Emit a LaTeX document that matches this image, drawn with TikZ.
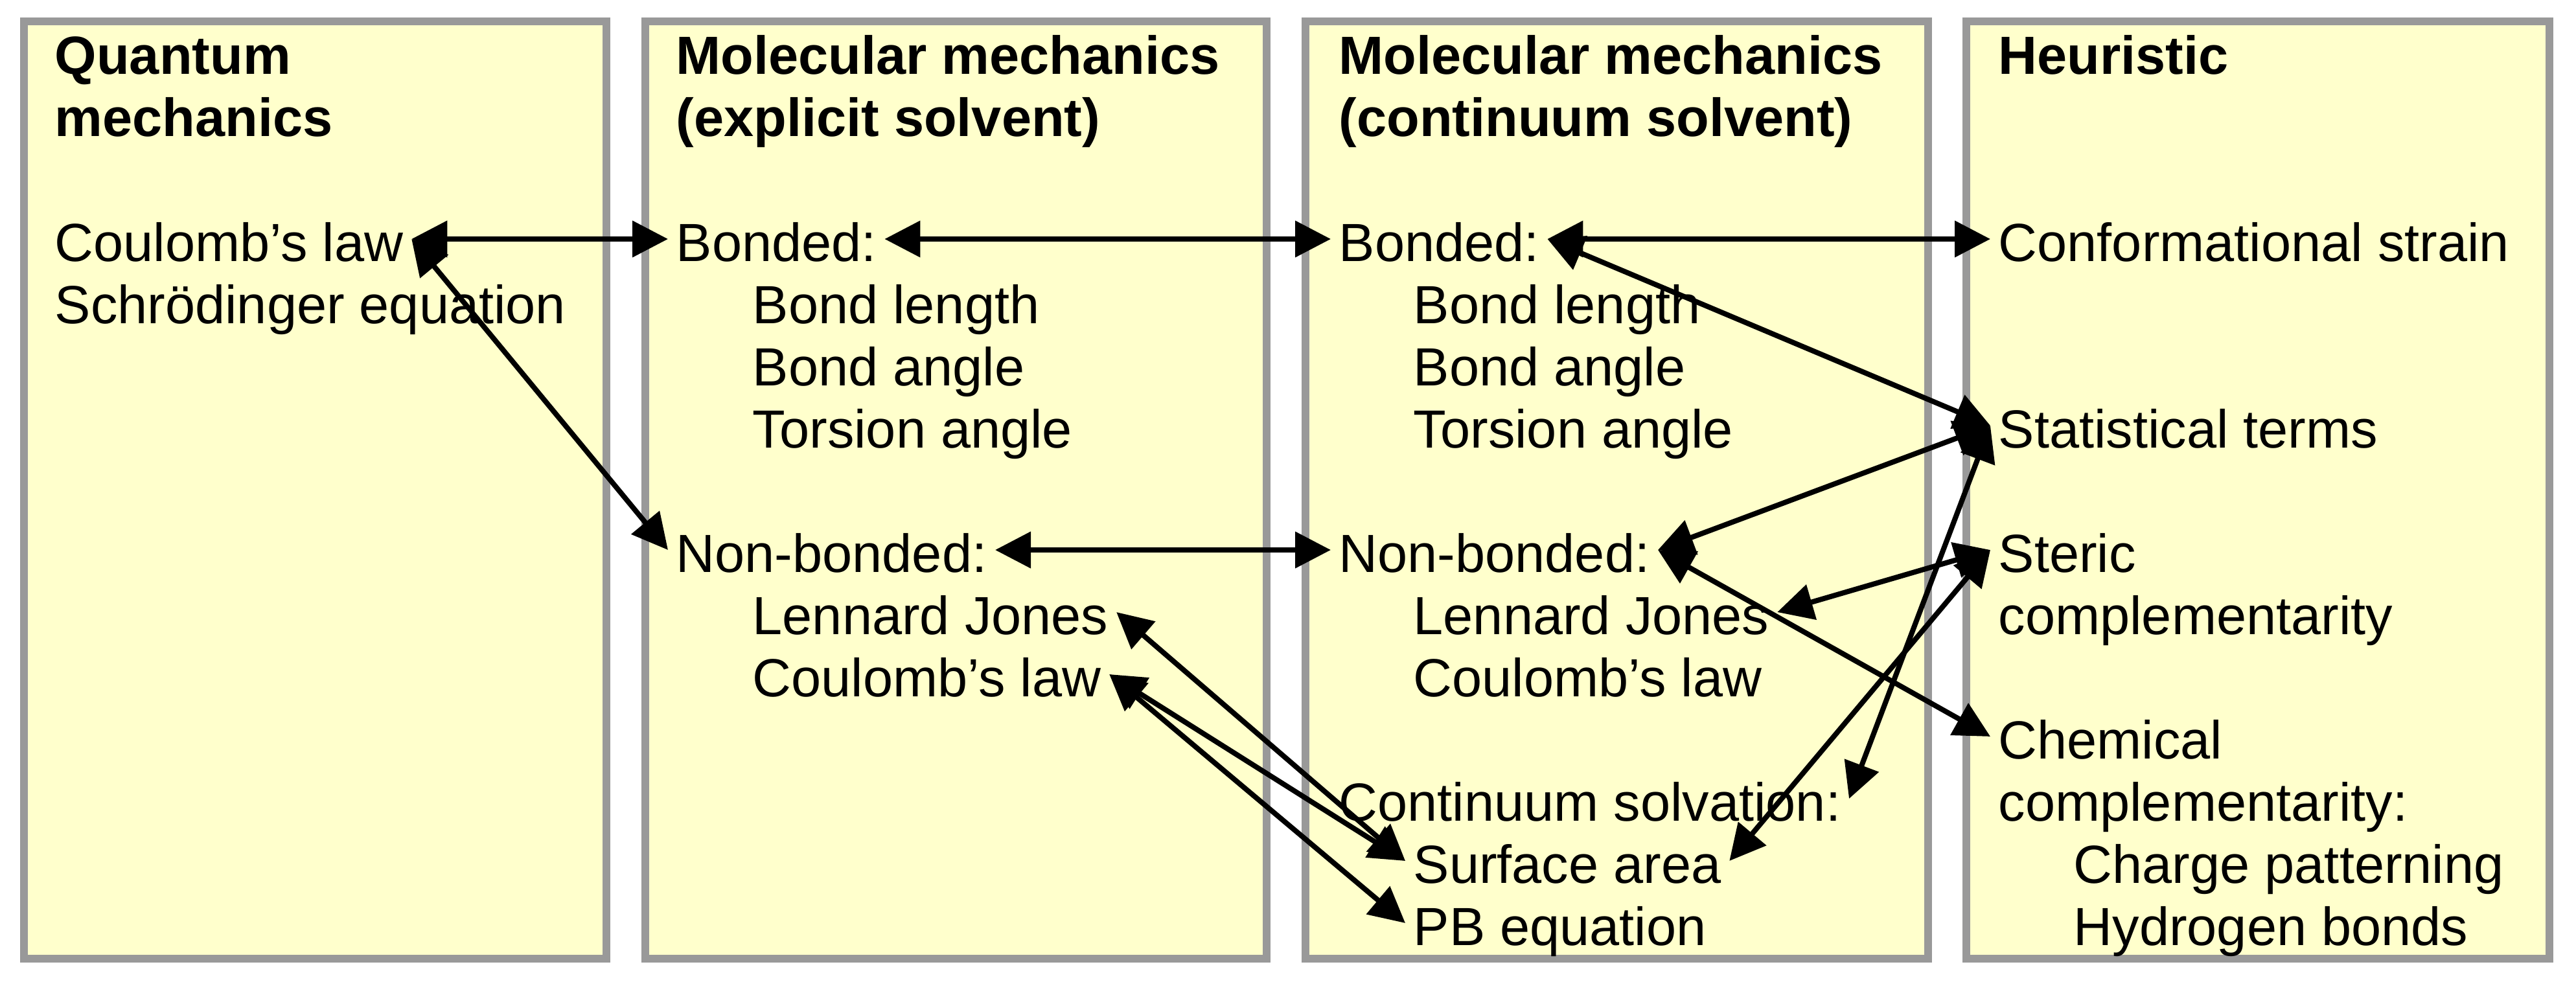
\documentclass[tikz,border=0pt]{standalone}
\usepackage{fontspec}
\setmainfont{Liberation Sans}
\usetikzlibrary{arrows.meta}
\definecolor{panelfill}{RGB}{255,255,204}
\definecolor{panelline}{RGB}{153,153,153}
\tikzset{
  panel/.style={draw=panelline,fill=panelfill,line width=0.12cm},
  item/.style={anchor=base west,inner xsep=0.12cm,inner ysep=0pt,text height=0.68cm,text depth=0pt,
    font=\fontsize{23.6}{27}\selectfont},
  head/.style={item,font=\fontsize{23.6}{27}\selectfont\bfseries},
  link/.style={line width=0.08cm,{Triangle[length=0.55cm,width=0.55cm]}-{Triangle[length=0.55cm,width=0.55cm]}}
}
\begin{document}
\begin{tikzpicture}[x=1cm,y=-1cm]
		\useasboundingbox (0,0) rectangle (39.76,15.16);
		% panels
		\draw[panel] (0.37,0.33) rectangle (9.36,14.80);
		\draw[panel] (9.96,0.33) rectangle (19.55,14.80);
		\draw[panel] (20.15,0.33) rectangle (29.76,14.80);
		\draw[panel] (30.35,0.33) rectangle (39.35,14.80);
		% quantum mechanics
		\node[head] (qmA) at (0.72,1.15) {Quantum};
		\node[head] (qmB) at (0.72,2.11) {mechanics};
		\node[item] (qmcoul) at (0.72,4.03) {Coulomb’s law};
		\node[item] (qmschr) at (0.72,4.99) {Schrödinger equation};
		% explicit solvent
		\node[head] (exA) at (10.31,1.15) {Molecular mechanics};
		\node[head] (exB) at (10.31,2.11) {(explicit solvent)};
		\node[item] (exbond) at (10.31,4.03) {Bonded:};
		\node[item] (exlen) at (11.49,4.99) {Bond length};
		\node[item] (exang) at (11.49,5.95) {Bond angle};
		\node[item] (extor) at (11.49,6.91) {Torsion angle};
		\node[item] (exnonb) at (10.31,8.83) {Non-bonded:};
		\node[item] (exlj) at (11.49,9.79) {Lennard Jones};
		\node[item] (excoul) at (11.49,10.75) {Coulomb’s law};
		% continuum solvent
		\node[head] (coA) at (20.54,1.15) {Molecular mechanics};
		\node[head] (coB) at (20.54,2.11) {(continuum solvent)};
		\node[item] (cobond) at (20.54,4.03) {Bonded:};
		\node[item] (colen) at (21.69,4.99) {Bond length};
		\node[item] (coang) at (21.69,5.95) {Bond angle};
		\node[item] (cotor) at (21.69,6.91) {Torsion angle};
		\node[item] (cononb) at (20.54,8.83) {Non-bonded:};
		\node[item] (colj) at (21.69,9.79) {Lennard Jones};
		\node[item] (cocoul) at (21.69,10.75) {Coulomb’s law};
		\node[item] (cosolv) at (20.54,12.67) {Continuum solvation:};
		\node[item] (cosurf) at (21.69,13.63) {Surface area};
		\node[item] (copb) at (21.69,14.59) {PB equation};
		% heuristic
		\node[head] (heA) at (30.72,1.15) {Heuristic};
		\node[item] (heconf) at (30.72,4.03) {Conformational strain};
		\node[item] (hestat) at (30.72,6.91) {Statistical terms};
		\node[item] (hester) at (30.72,8.83) {Steric};
		\node[item] (hecompA) at (30.72,9.79) {complementarity};
		\node[item] (hechem) at (30.72,11.71) {Chemical};
		\node[item] (hecompB) at (30.72,12.67) {complementarity:};
		\node[item] (hechg) at (31.88,13.63) {Charge patterning};
		\node[item] (hehyd) at (31.88,14.59) {Hydrogen bonds};
		% links
		\draw[link] (qmcoul.east) -- (exbond.west);
		\draw[link] (qmcoul.east) -- (exnonb.west);
		\draw[link] (exbond.east) -- (cobond.west);
		\draw[link] (exnonb.east) -- (cononb.west);
		\draw[link] (cobond.east) -- (heconf.west);
		\draw[link] (cobond.east) -- (hestat.west);
		\draw[link] (hestat.west) -- (cononb.east);
		\draw[link] (hestat.west) -- (cosolv.east);
		\draw[link] (hester.west) -- (colj.east);
		\draw[link] (hester.west) -- (cosurf.east);
		\draw[link] (cononb.east) -- (hechem.west);
		\draw[link] (exlj.east) -- (cosurf.west);
		\draw[link] (excoul.east) -- (cosurf.west);
		\draw[link] (excoul.east) -- (copb.west);
	    \end{tikzpicture}
\end{document}
